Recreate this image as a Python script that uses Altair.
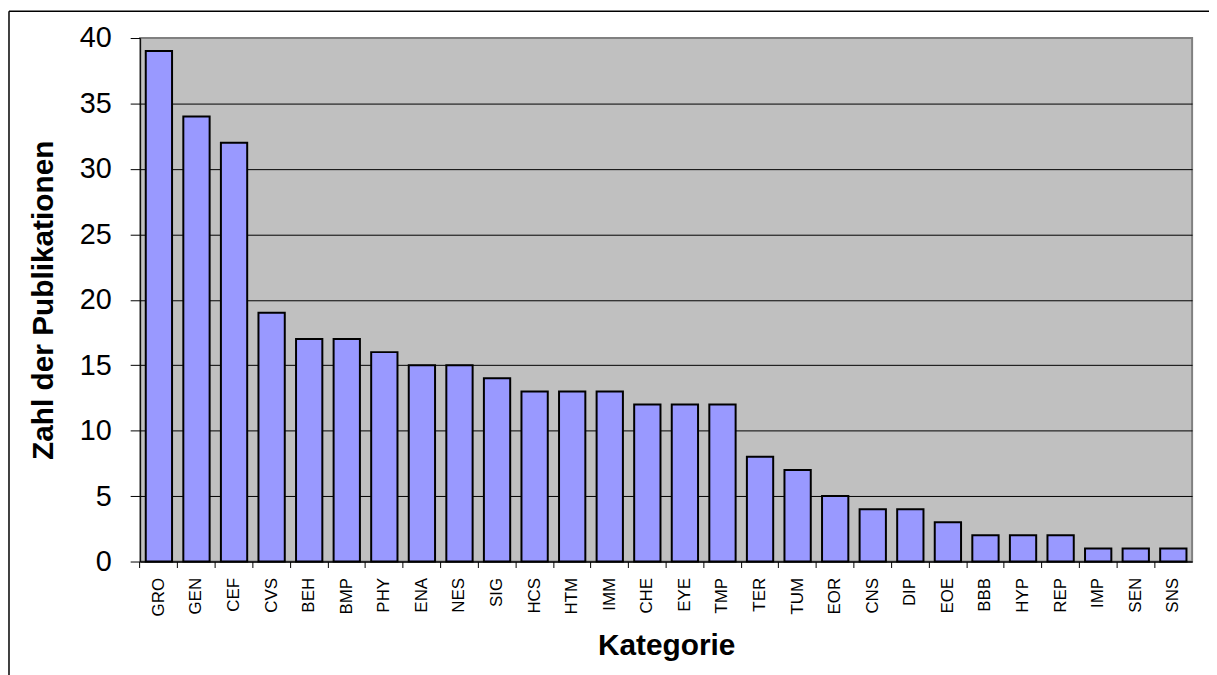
import altair as alt
import pandas as pd

categories = ["GRO", "GEN", "CEF", "CVS", "BEH", "BMP", "PHY", "ENA", "NES", "SIG",
              "HCS", "HTM", "IMM", "CHE", "EYE", "TMP", "TER", "TUM", "EOR", "CNS",
              "DIP", "EOE", "BBB", "HYP", "REP", "IMP", "SEN", "SNS"]
counts = [39, 34, 32, 19, 17, 17, 16, 15, 15, 14,
          13, 13, 13, 12, 12, 12, 8, 7, 5, 4,
          4, 3, 2, 2, 2, 1, 1, 1]
y_ticks = [0, 5, 10, 15, 20, 25, 30, 35, 40]

df = pd.DataFrame({"Kategorie": categories, "Zahl": counts})

FONT = "Liberation Sans"

bars = alt.Chart(df).mark_bar(fill="#9999FF", stroke="black", strokeWidth=2).encode(
    x=alt.X(
        "Kategorie:N",
        sort=categories,
        scale=alt.Scale(paddingInner=0.3, paddingOuter=0.15),
        axis=alt.Axis(
            title="Kategorie",
            labelAngle=-90,
            labelFont=FONT,
            labelFontSize=17,
            labelColor="black",
            labelPadding=10,
            tickSize=6,
            tickColor="black",
            tickWidth=1,
            bandPosition=-0.2143,
            domainColor="black",
            domainWidth=1,
            grid=False,
            titleFont=FONT,
            titleFontSize=30,
            titleFontWeight="bold",
            titleColor="black",
            titleBaseline="alphabetic",
            titleY=94,
        ),
    ),
    y=alt.Y(
        "Zahl:Q",
        scale=alt.Scale(domain=[0, 40], nice=False),
        axis=alt.Axis(
            title="Zahl der Publikationen",
            values=y_ticks,
            labelFont=FONT,
            labelFontSize=29,
            labelColor="black",
            labelPadding=19,
            tickSize=10,
            tickColor="black",
            tickWidth=1,
            domainColor="black",
            domainWidth=1,
            grid=True,
            gridColor=alt.condition("datum.value == 40", alt.value("#808080"), alt.value("black")),
            gridWidth=1,
            titleFont=FONT,
            titleFontSize=30,
            titleFontWeight="bold",
            titleColor="black",
            titleAngle=-90,
            titleAlign="center",
            titleBaseline="alphabetic",
            titleX=-88,
            titleY=263.5,
        ),
    ),
)

frame_src = pd.DataFrame({"f": [0]})
frame_top = alt.Chart(frame_src).mark_rule(color="black", strokeWidth=1.5).encode(
    x=alt.value(-132), x2=alt.value(1120), y=alt.value(-27)
)
frame_left = alt.Chart(frame_src).mark_rule(color="black", strokeWidth=1.5).encode(
    x=alt.value(-132), y=alt.value(-27), y2=alt.value(700)
)

chart = alt.layer(bars, frame_top, frame_left).properties(
    width=1059,
    height=527,
    background="white",
    padding={"left": 133, "top": 28, "right": 17, "bottom": 112},
    autosize=alt.AutoSizeParams(type="none"),
).configure_view(
    fill="#C0C0C0",
    stroke="#808080",
    strokeWidth=2,
)

chart.save("out.html", embed_options={"renderer": "svg", "actions": False})
